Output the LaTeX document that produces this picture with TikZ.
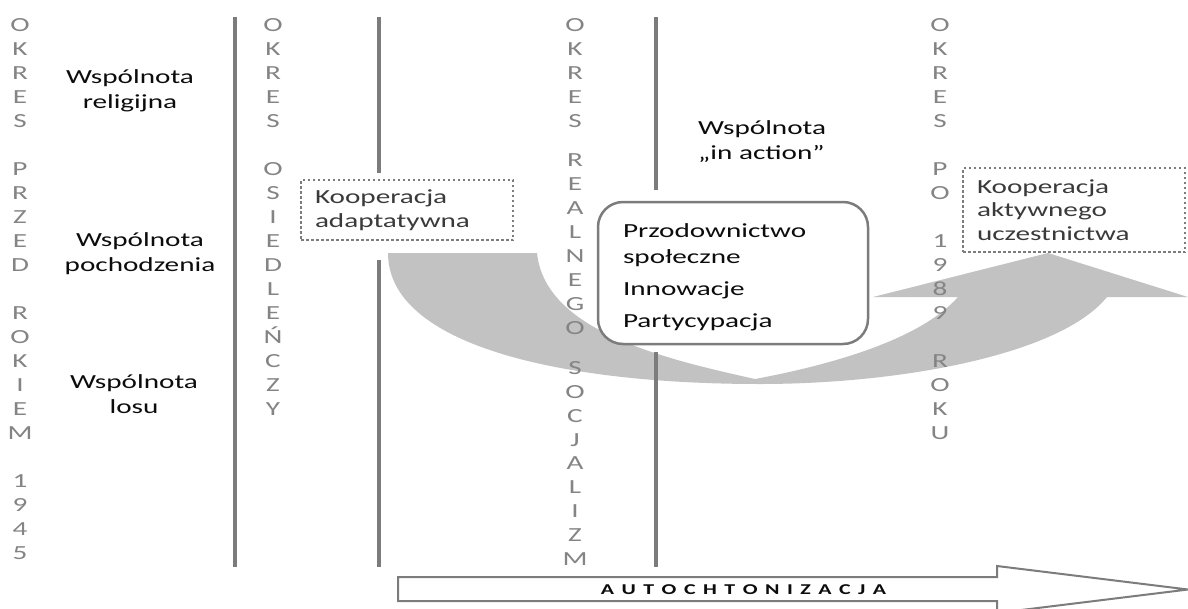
\documentclass[tikz,border=0pt]{standalone}
\usepackage{fontspec}
\setmainfont{Carlito}[FakeStretch=1.46]
\definecolor{linegray}{RGB}{124,124,124}
\definecolor{lettergray}{RGB}{132,132,132}
\definecolor{arrowfill}{RGB}{194,194,194}
\definecolor{boxgray}{RGB}{124,124,124}
\definecolor{ink}{RGB}{12,12,12}
\definecolor{boxink}{RGB}{58,58,58}
\newcommand{\lsp}{\hspace{7.5pt}}
\begin{document}
\begin{tikzpicture}[x=1pt,y=-1pt,
  vline/.style={draw=linegray, line width=4pt},
  colchar/.style={text=lettergray, font=\fontsize{20}{24}\selectfont, inner sep=0pt, anchor=base},
  commlabel/.style={text=ink, font=\fontsize{20}{25}\selectfont, inner sep=0pt, align=center},
  coopbox/.style={draw=linegray, line width=2.5pt, dash pattern=on 2.5pt off 2.5pt,
    text=boxink, font=\fontsize{20}{23.5}\selectfont, align=left, inner xsep=14pt, inner ysep=0pt},
  listbox/.style={draw=boxgray, line width=2.5pt, rounded corners=25pt, fill=white,
    text=ink, font=\fontsize{20}{26}\selectfont, align=left, inner xsep=25pt, inner ysep=0pt}]
\useasboundingbox (0,0) rectangle (1188,608);

% curved "up" arrow: from the adaptive cooperation down and up to active participation
\fill[arrowfill] (388,253) -- (537,253)
  .. controls (545,330) and (660,358) .. (755,379)
  .. controls (830,365) and (920,340) .. (958,297)
  -- (873,297) -- (1048,253) -- (1188,297) -- (1107,297)
  .. controls (1060,355) and (900,384) .. (760,384)
  .. controls (560,384) and (388,345) .. cycle;

% period separators
\draw[vline] (235,17) -- (235,567);
\draw[vline] (379,17) -- (379,173);
\draw[vline] (379,260) -- (379,567);
\draw[vline] (656,17) -- (656,190);
\draw[vline] (656,352) -- (656,567);

% vertical period names
\foreach \c/\k in {O/0,K/1,R/2,E/3,S/4,P/6,R/7,Z/8,E/9,D/10,R/12,O/13,K/14,I/15,E/16,M/17,1/19,9/20,4/21,5/22}
  \node[colchar] (przed\k) at (20, 31.4+24*\k) {\c};
\foreach \c/\k in {O/0,K/1,R/2,E/3,S/4,O/6,S/7,I/8,E/9,D/10,L/11,E/12,Ń/13,C/14,Z/15,Y/16}
  \node[colchar] (osied\k) at (273, 31.4+24*\k) {\c};
\foreach \c/\yy [count=\i] in {O/25,K/49,R/73,E/97,S/121,R/160.5,E/184.4,A/208.3,L/232.2,N/256,E/280,G/304,O/328,S/368,O/392,C/416,J/440,A/463.5,L/487.4,I/511.3,Z/535.2,M/559}
  \node[colchar] (real\i) at (575, \yy+6.4) {\c};
\foreach \c/\k in {O/0,K/1,R/2,E/3,S/4,P/6,O/7,1/9,9/10,8/11,9/12,R/14,O/15,K/16,U/17}
  \node[colchar] (po\k) at (940, 31.4+24*\k) {\c};

% communities
\node[commlabel] (relig) at (130,91) {Wspólnota\\religijna};
\node[commlabel] (pochodz) at (140,254) {Wspólnota\\pochodzenia};
\node[commlabel] (losu) at (134,394) {Wspólnota\\losu};
\node[commlabel, align=left, anchor=west] (inaction) at (698,142) {Wspólnota\\„in action”};

% cooperation boxes
\node[coopbox, text width=184pt, minimum height=60pt] (coopA) at (407,210) {Kooperacja\\adaptatywna};
\node[coopbox, text width=194pt, minimum height=84pt] (coopB) at (1074,210) {Kooperacja\\aktywnego\\uczestnictwa};

% features of the community in action
\node[listbox, text width=220pt, minimum height=142pt] (activ) at (733,273)
  {\rule{0pt}{21.5pt}Przodownictwo\\społeczne\\[6pt]Innowacje\\[6pt]Partycypacja};

% autochthonisation arrow
\draw[boxgray, line width=2pt, fill=white, line join=miter]
  (398,577) -- (997,577) -- (997,566) -- (1188,589.5) -- (997,613) -- (997,601) -- (398,601) -- cycle;
\node[text=ink, font=\bfseries\fontsize{15}{17}\selectfont, inner sep=0pt] (autoch) at (743.5,589.5)
  {A\lsp U\lsp T\lsp O\lsp C\lsp H\lsp T\lsp O\lsp N\lsp I\lsp Z\lsp A\lsp C\lsp J\lsp A};
\end{tikzpicture}
\end{document}
